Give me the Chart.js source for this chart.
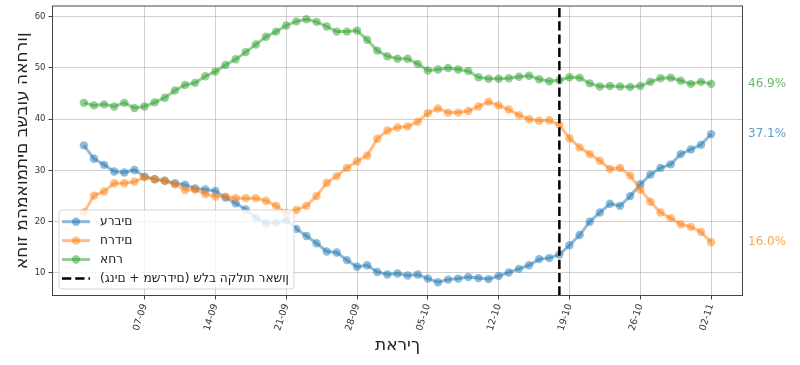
<!DOCTYPE html>
<html><head><meta charset="utf-8">
<script src="https://cdn.jsdelivr.net/npm/chart.js@4/dist/chart.umd.min.js"></script>
<style>html,body{margin:0;padding:0;background:#fff}#wrap{width:800px;height:365px;position:relative}</style>
</head><body><div id="wrap"><canvas id="c" width="800" height="365"></canvas></div>
<script>
const categories = [
 '01-09','02-09','03-09','04-09','05-09','06-09','07-09','08-09','09-09','10-09',
 '11-09','12-09','13-09','14-09','15-09','16-09','17-09','18-09','19-09','20-09',
 '21-09','22-09','23-09','24-09','25-09','26-09','27-09','28-09','29-09','30-09',
 '01-10','02-10','03-10','04-10','05-10','06-10','07-10','08-10','09-10','10-10',
 '11-10','12-10','13-10','14-10','15-10','16-10','17-10','18-10','19-10','20-10',
 '21-10','22-10','23-10','24-10','25-10','26-10','27-10','28-10','29-10','30-10',
 '31-10','01-11','02-11'];
const tickLabels = ['07-09','14-09','21-09','28-09','05-10','12-10','19-10','26-10','02-11'];
const yTickValues = [10,20,30,40,50,60];
const arabs = [34.9,32.3,31.1,29.8,29.6,30.1,28.8,28.3,28.0,27.5,
 27.2,26.5,26.3,26.0,24.7,23.6,22.4,20.8,19.7,19.8,
 20.3,18.6,17.2,15.8,14.2,14.0,12.5,11.2,11.5,10.2,
 9.7,9.9,9.5,9.7,8.9,8.2,8.7,8.9,9.2,9.0,
 8.8,9.4,10.1,10.8,11.5,12.7,12.9,13.6,15.4,17.4,
 20.0,21.8,23.5,23.1,25.0,27.3,29.2,30.5,31.2,33.2,
 34.1,35.0,37.1];
const haredim = [21.8,25.1,25.9,27.5,27.5,27.8,28.7,28.3,28.0,27.3,
 26.2,26.3,25.4,24.9,24.9,24.6,24.6,24.6,24.1,23.1,
 21.7,22.3,23.1,25.0,27.6,28.9,30.5,31.8,32.9,36.2,
 37.8,38.4,38.6,39.5,41.2,42.1,41.3,41.3,41.6,42.5,
 43.4,42.7,41.9,40.8,40.0,39.7,39.8,38.9,36.3,34.5,
 33.2,31.9,30.3,30.5,29.0,26.3,23.9,21.8,20.7,19.5,
 19.0,18.0,16.0];
const other = [43.2,42.7,42.9,42.5,43.2,42.2,42.5,43.3,44.2,45.6,
 46.7,47.1,48.4,49.3,50.6,51.7,53.1,54.6,56.1,57.1,
 58.3,59.1,59.5,59.0,58.1,57.1,57.1,57.3,55.5,53.4,
 52.3,51.8,51.8,50.8,49.5,49.7,50.0,49.7,49.4,48.2,
 47.9,47.9,48.0,48.3,48.5,47.8,47.4,47.6,48.2,48.1,
 47.0,46.4,46.5,46.4,46.3,46.5,47.3,48.0,48.1,47.5,
 46.9,47.3,46.9];
const seriesNames = ['ערבים','חרדים','אחר'];
const eventDate = '18-10';
const eventLabel = 'שלב הקלות ראשון (גנים + משרדים)';
const xTitle = 'תאריך';
const yTitle = 'אחוז מהמאומתים בשבוע האחרון';

const Y_MIN = 5.6, Y_MAX = 62.1, X_MIN = -3.1, X_MAX = 65.1;
const FONT = "'DejaVu Sans', sans-serif";
const lineColors = ['rgba(31,119,180,0.5)','rgba(255,127,14,0.5)','rgba(44,160,44,0.5)'];
const textColors = ['rgba(31,119,180,0.72)','rgba(255,127,14,0.72)','rgba(44,160,44,0.72)'];

// The sandbox canvas does not apply the bidi algorithm, so right-to-left
// strings (Hebrew + neutral punctuation only) are put into visual order for drawing.
const MIRROR = {'(':')', ')':'(', '[':']', ']':'[', '{':'}', '}':'{', '<':'>', '>':'<'};
const visualRTL = s => Array.from(s).reverse().map(c => MIRROR[c] || c).join('');

const toXY = arr => arr.map((v, i) => ({x: i, y: v}));
const seriesData = [arabs, haredim, other];
const evIdx = categories.indexOf(eventDate);

const datasets = seriesData.map((arr, k) => ({
  label: seriesNames[k],
  data: toXY(arr),
  borderColor: lineColors[k],
  backgroundColor: lineColors[k],
  pointBackgroundColor: lineColors[k],
  pointBorderWidth: 0,
  pointRadius: 4.2,
  borderWidth: 3,
  tension: 0,
  order: 3 - k,
  isSeries: true,
  textColor: textColors[k]
}));
datasets.push({
  label: eventLabel,
  data: [{x: evIdx, y: Y_MIN}, {x: evIdx, y: Y_MAX}],
  borderColor: '#000',
  backgroundColor: '#000',
  borderWidth: 2.5,
  borderDash: [9.25, 4],
  pointRadius: 0,
  order: 0
});

const framePlugin = {
  id: 'frame',
  afterDatasetsDraw(chart) {
    const {ctx, chartArea: a} = chart;
    ctx.save();
    ctx.strokeStyle = '#444';
    ctx.lineWidth = 1;
    ctx.strokeRect(a.left, a.top, a.right - a.left, a.bottom - a.top);
    // end-of-series value labels
    const ys = chart.scales.y;
    ctx.font = '12px ' + FONT;
    ctx.textBaseline = 'middle';
    ctx.textAlign = 'left';
    chart.data.datasets.forEach(ds => {
      if (!ds.isSeries) return;
      const last = ds.data[ds.data.length - 1].y;
      ctx.fillStyle = ds.textColor;
      ctx.fillText(last.toFixed(1) + '%', a.right + 5.5, ys.getPixelForValue(last));
    });
    // legend box inside plot
    const L = a.left + 6.5, T = a.bottom - 85.5, W = 235, H = 79;
    ctx.beginPath();
    ctx.roundRect(L, T, W, H, 3);
    ctx.fillStyle = 'rgba(255,255,255,0.8)';
    ctx.fill();
    ctx.strokeStyle = 'rgba(204,204,204,0.8)';
    ctx.stroke();
    chart.data.datasets.forEach((ds, row) => {
      const y = T + 11.7 + row * 18.9;
      ctx.save();
      ctx.strokeStyle = ds.borderColor;
      ctx.lineWidth = ds.borderWidth;
      ctx.setLineDash(ds.borderDash || []);
      ctx.beginPath();
      ctx.moveTo(L + 3, y); ctx.lineTo(L + 31, y);
      ctx.stroke();
      ctx.setLineDash([]);
      if (ds.pointRadius > 0) {
        ctx.fillStyle = ds.pointBackgroundColor;
        ctx.beginPath();
        ctx.arc(L + 17, y, ds.pointRadius, 0, Math.PI * 2);
        ctx.fill();
      }
      ctx.restore();
      ctx.save();
      ctx.textAlign = 'left';
      ctx.textBaseline = 'middle';
      ctx.font = '12.2px ' + FONT;
      ctx.fillStyle = '#222';
      ctx.fillText(visualRTL(ds.label), L + 41, y + 0.5);
      ctx.restore();
    });
    ctx.restore();
  }
};

new Chart(document.getElementById('c'), {
  type: 'line',
  data: { datasets },
  options: {
    responsive: false,
    animation: false,
    devicePixelRatio: 1,
    layout: { padding: { top: 6, right: 57.5, left: 0, bottom: 0 } },
    plugins: { legend: { display: false }, tooltip: { enabled: false } },
    scales: {
      x: {
        type: 'linear',
        min: X_MIN, max: X_MAX,
        afterBuildTicks: s => { s.ticks = tickLabels.map(l => ({ value: categories.indexOf(l) })); },
        afterFit: s => { s.height = 69.5; s.paddingLeft = 0; s.paddingRight = 0; },
        ticks: {
          callback: v => categories[v],
          minRotation: 72, maxRotation: 72,
          font: { family: FONT, size: 9.5 },
          color: '#333',
          padding: 3,
          autoSkip: false
        },
        grid: { color: 'rgba(176,176,176,0.6)', lineWidth: 1, tickLength: 4, tickColor: '#444' },
        border: { color: '#444', width: 1 },
        title: { display: true, text: visualRTL(xTitle), font: { family: FONT, size: 17 }, color: '#222', padding: { top: 0, bottom: 8.8 } }
      },
      y: {
        type: 'linear',
        min: Y_MIN, max: Y_MAX,
        afterBuildTicks: s => { s.ticks = yTickValues.map(v => ({ value: v })); },
        afterFit: s => { s.width = 52.5; s.paddingTop = 0; s.paddingBottom = 0; },
        ticks: { font: { family: FONT, size: 8.5 }, color: '#333', padding: 3 },
        grid: { color: 'rgba(176,176,176,0.6)', lineWidth: 1, tickLength: 4, tickColor: '#444' },
        border: { color: '#444', width: 1 },
        title: { display: true, text: visualRTL(yTitle), font: { family: FONT, size: 17 }, color: '#222', padding: { top: 12, bottom: 0 } }
      }
    }
  },
  plugins: [framePlugin]
});
</script></body></html>
